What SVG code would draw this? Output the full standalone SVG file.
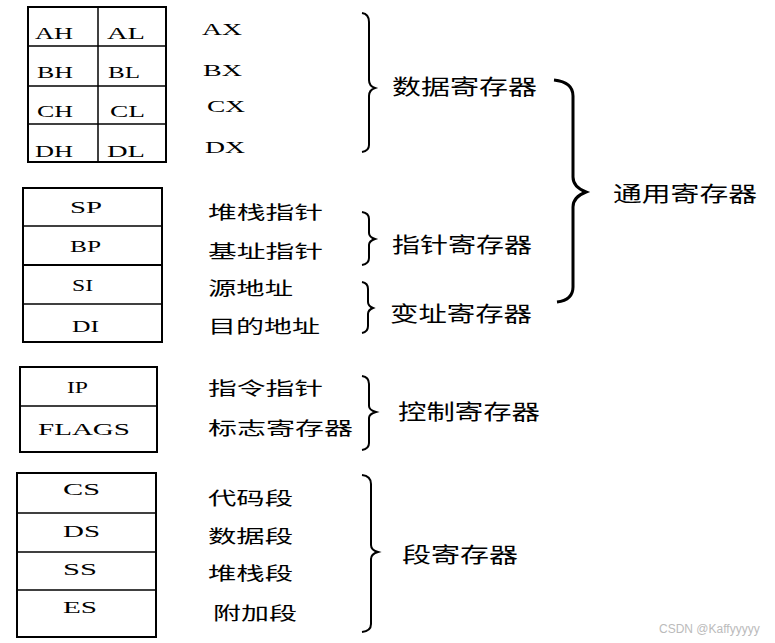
<svg xmlns="http://www.w3.org/2000/svg" width="775" height="643" viewBox="0 0 775 643">
<style>
.cell{fill:#fff;stroke:#000;stroke-width:2}
.ln{stroke:#000;stroke-width:1.5}
.r{font-family:"Liberation Serif","DejaVu Serif",serif;font-size:16px;fill:#000}
.cn{font-family:"Noto Sans CJK SC","Noto Sans",sans-serif;font-size:18px;fill:#000;dominant-baseline:central}
.cb{font-family:"Noto Sans CJK SC","Noto Sans",sans-serif;font-size:21px;fill:#000;dominant-baseline:central}
.br{fill:none;stroke:#000;stroke-width:2}
.wm{font-family:"Liberation Sans",Arial,sans-serif;font-size:12px;fill:#bbb}
</style>
<rect width="775" height="643" fill="#fff"/>

<g id="data-regs">
<rect class="cell" x="28" y="7" width="138" height="155"/>
<line class="ln" x1="98" y1="7" x2="98" y2="162"/>
<line class="ln" x1="28" y1="46" x2="166" y2="46"/>
<line class="ln" x1="28" y1="86" x2="166" y2="86"/>
<line class="ln" x1="28" y1="124" x2="166" y2="124"/>
<text class="r" x="35" y="39" textLength="38" lengthAdjust="spacingAndGlyphs">AH</text>
<text class="r" x="107" y="39" textLength="38" lengthAdjust="spacingAndGlyphs">AL</text>
<text class="r" x="37" y="78" textLength="36" lengthAdjust="spacingAndGlyphs">BH</text>
<text class="r" x="108" y="78" textLength="32" lengthAdjust="spacingAndGlyphs">BL</text>
<text class="r" x="37" y="117" textLength="36" lengthAdjust="spacingAndGlyphs">CH</text>
<text class="r" x="110" y="117" textLength="35" lengthAdjust="spacingAndGlyphs">CL</text>
<text class="r" x="35" y="157" textLength="38" lengthAdjust="spacingAndGlyphs">DH</text>
<text class="r" x="107" y="157" textLength="38" lengthAdjust="spacingAndGlyphs">DL</text>
<text class="r" x="202" y="35" textLength="40" lengthAdjust="spacingAndGlyphs">AX</text>
<text class="r" x="203" y="76" textLength="39" lengthAdjust="spacingAndGlyphs">BX</text>
<text class="r" x="207" y="112" textLength="38" lengthAdjust="spacingAndGlyphs">CX</text>
<text class="r" x="205" y="153" textLength="40" lengthAdjust="spacingAndGlyphs">DX</text>
</g>

<g id="pointer-index-regs">
<rect class="cell" x="23" y="188" width="139" height="154"/>
<line class="ln" x1="23" y1="226" x2="162" y2="226"/>
<line class="ln" x1="23" y1="265" x2="162" y2="265" style="stroke-width:2"/>
<line class="ln" x1="23" y1="304" x2="162" y2="304"/>
<text class="r" x="70" y="213" textLength="32" lengthAdjust="spacingAndGlyphs">SP</text>
<text class="r" x="70" y="252" textLength="31" lengthAdjust="spacingAndGlyphs">BP</text>
<text class="r" x="72" y="291" textLength="21" lengthAdjust="spacingAndGlyphs">SI</text>
<text class="r" x="72" y="332" textLength="27" lengthAdjust="spacingAndGlyphs">DI</text>
<text class="cn" x="208" y="211" textLength="115" lengthAdjust="spacingAndGlyphs">堆栈指针</text>
<text class="cn" x="208" y="250" textLength="115" lengthAdjust="spacingAndGlyphs">基址指针</text>
<text class="cn" x="208" y="287" textLength="85" lengthAdjust="spacingAndGlyphs">源地址</text>
<text class="cn" x="208" y="325" textLength="112" lengthAdjust="spacingAndGlyphs">目的地址</text>
</g>

<g id="control-regs">
<rect class="cell" x="20" y="367" width="137" height="85"/>
<line class="ln" x1="20" y1="406" x2="157" y2="406"/>
<text class="r" x="67" y="393" textLength="21" lengthAdjust="spacingAndGlyphs">IP</text>
<text class="r" x="38" y="435" textLength="92" lengthAdjust="spacingAndGlyphs">FLAGS</text>
<text class="cn" x="208" y="387" textLength="115" lengthAdjust="spacingAndGlyphs">指令指针</text>
<text class="cn" x="208" y="427" textLength="145" lengthAdjust="spacingAndGlyphs">标志寄存器</text>
</g>

<g id="segment-regs">
<rect class="cell" x="17" y="473" width="139" height="164"/>
<line class="ln" x1="17" y1="513" x2="156" y2="513"/>
<line class="ln" x1="17" y1="552" x2="156" y2="552"/>
<line class="ln" x1="17" y1="590" x2="156" y2="590"/>
<text class="r" x="63" y="495" textLength="37" lengthAdjust="spacingAndGlyphs">CS</text>
<text class="r" x="63" y="537" textLength="37" lengthAdjust="spacingAndGlyphs">DS</text>
<text class="r" x="63" y="575" textLength="34" lengthAdjust="spacingAndGlyphs">SS</text>
<text class="r" x="63" y="613" textLength="34" lengthAdjust="spacingAndGlyphs">ES</text>
<text class="cn" x="208" y="497" textLength="85" lengthAdjust="spacingAndGlyphs">代码段</text>
<text class="cn" x="208" y="535" textLength="85" lengthAdjust="spacingAndGlyphs">数据段</text>
<text class="cn" x="208" y="572" textLength="85" lengthAdjust="spacingAndGlyphs">堆栈段</text>
<text class="cn" x="213" y="612" textLength="84" lengthAdjust="spacingAndGlyphs">附加段</text>
</g>

<g id="group-labels">
<text class="cb" x="392" y="85" textLength="145" lengthAdjust="spacingAndGlyphs">数据寄存器</text>
<text class="cb" x="392" y="243" textLength="140" lengthAdjust="spacingAndGlyphs">指针寄存器</text>
<text class="cb" x="390" y="312" textLength="142" lengthAdjust="spacingAndGlyphs">变址寄存器</text>
<text class="cb" x="398" y="410" textLength="142" lengthAdjust="spacingAndGlyphs">控制寄存器</text>
<text class="cb" x="402" y="553" textLength="116" lengthAdjust="spacingAndGlyphs">段寄存器</text>
<text class="cb" x="613" y="192" textLength="144" lengthAdjust="spacingAndGlyphs">通用寄存器</text>
</g>

<g id="connectors">
<path class="br" d="M362,13 Q369,14 369,22 L369,80 Q369,86 375,88 Q369,90 369,96 L369,145 Q369,151 362,152"/>
<path class="br" d="M362,212 Q369,213 369,219 L369,233 Q369,237 375,239 Q369,241 369,245 L369,258 Q369,264 362,265"/>
<path class="br" d="M362,282 Q368,283 368,289 L368,302 Q368,306 373,308 Q368,310 368,314 L368,326 Q368,332 362,333"/>
<path class="br" d="M362,376 Q369,377 369,384 L369,406 Q369,410 376,412 Q369,414 369,418 L369,443 Q369,449 362,450"/>
<path class="br" d="M362,475 Q371,476 371,484 L371,545 Q371,550 378,552 Q371,554 371,559 L371,624 Q371,631 362,632"/>
<path class="br" d="M554,80 Q573,82 573,96 L573,177 Q573,187 586,192 Q573,197 573,207 L573,287 Q573,300 557,302" style="stroke-width:3"/>
</g>

<text class="wm" x="659" y="633">CSDN @Kaffyyyyy</text>
</svg>
